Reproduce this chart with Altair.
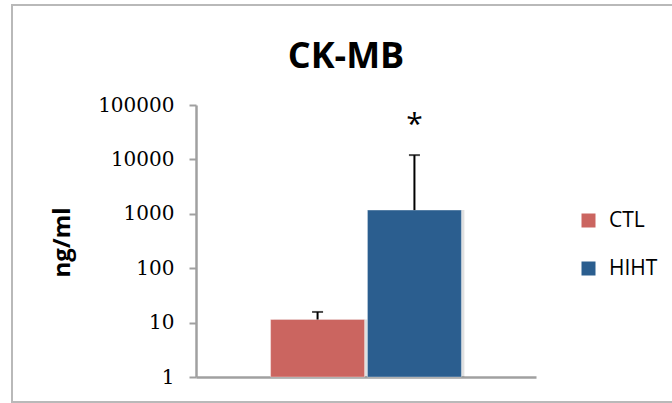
import altair as alt
import pandas as pd

# CK-MB serum levels by group (mean and SD, ng/ml)
groups = ["CTL", "HIHT"]
means = [11.4, 1170]
sds = [4.3, 10830]
significance = ["", "*"]
y_ticks = [1, 10, 100, 1000, 10000, 100000]
colors = ["#CB6560", "#2B5E8F"]

df = pd.DataFrame({"group": groups, "mean": means, "sd": sds, "sig": significance})

W, H = 340, 272
PAD = {"left": 196, "top": 105, "right": 136, "bottom": 26}

x_enc = alt.X(
    "group:N",
    sort=groups,
    scale=alt.Scale(paddingInner=0.03, paddingOuter=0.77),
    axis=alt.Axis(
        title=None, labels=False, ticks=False, domainColor="#a0a0a0", domainWidth=2.5
    ),
)
y_scale = alt.Scale(type="log", domain=[1, 100000], nice=False)
# bars start at the bottom of the log axis
y_floor = alt.datum(y_ticks[0])

base = alt.Chart(df).transform_calculate(upper="datum.mean + datum.sd")

bars = base.mark_bar(stroke="#ffffff", strokeOpacity=0.35, strokeWidth=1).encode(
    x=x_enc,
    y=alt.Y(
        "mean:Q",
        scale=y_scale,
        axis=alt.Axis(
            title="ng/ml",
            values=y_ticks,
            format="d",
            grid=False,
            domainColor="#a0a0a0",
            domainWidth=2.5,
            tickColor="#a0a0a0",
            tickWidth=2,
            tickSize=7,
            labelPadding=15,
            labelFont="DejaVu Serif",
            labelFontSize=20,
            labelColor="#000000",
            titleFont="Open Sans",
            titleFontWeight="bold",
            titleFontSize=24,
            titleColor="#000000",
            titleX=-134,
            titleY=137,
            titleAngle=270,
            titleAlign="center",
            titleBaseline="middle",
        ),
    ),
    y2=y_floor,
    color=alt.Color(
        "group:N",
        sort=groups,
        scale=alt.Scale(domain=groups, range=colors),
        legend=alt.Legend(
            title=None,
            orient="none",
            legendX=382,
            legendY=105,
            symbolType="square",
            symbolSize=196,
            symbolStrokeWidth=0,
            labelFont="Open Sans",
            labelFontSize=21,
            labelColor="#000000",
            labelOffset=10,
            rowPadding=26,
            padding=0,
        ),
    ),
)

# soft drop shadow to the right of each bar
shadow = base.mark_bar(color="#000000", opacity=0.12, xOffset=3).encode(
    x=x_enc, y=alt.Y("mean:Q", scale=y_scale), y2=y_floor
)

stems = base.mark_rule(color="#000000", strokeWidth=2).encode(
    x=x_enc, y=alt.Y("mean:Q", scale=y_scale), y2="upper:Q"
)
caps = base.mark_tick(color="#000000", thickness=2, size=11, orient="horizontal").encode(
    x=x_enc, y=alt.Y("upper:Q", scale=y_scale)
)
stars = base.mark_text(
    font="Open Sans", fontSize=30, color="#000000", baseline="middle", dy=-30
).encode(x=x_enc, y=alt.Y("upper:Q", scale=y_scale), text="sig:N")

# light grey frame around the whole figure
frame = alt.Chart(df).mark_rect(
    filled=False, stroke="#b9b9b9", strokeWidth=2
).encode(
    x=alt.value(-184), x2=alt.value(500), y=alt.value(-100), y2=alt.value(297)
)

chart = (
    alt.layer(frame, shadow, bars, stems, caps, stars)
    .properties(
        width=W,
        height=H,
        padding=PAD,
        autosize=alt.AutoSizeParams(type="none"),
        title=alt.TitleParams(
            "CK-MB",
            font="Open Sans",
            fontWeight="bold",
            fontSize=36,
            color="#000000",
            anchor="middle",
            frame="group",
            baseline="alphabetic",
            offset=-100,
            dx=-20,
        ),
        background="#ffffff",
    )
    .configure_view(stroke=None)
)

chart.save("out.html", embed_options={"renderer": "svg", "actions": False})
